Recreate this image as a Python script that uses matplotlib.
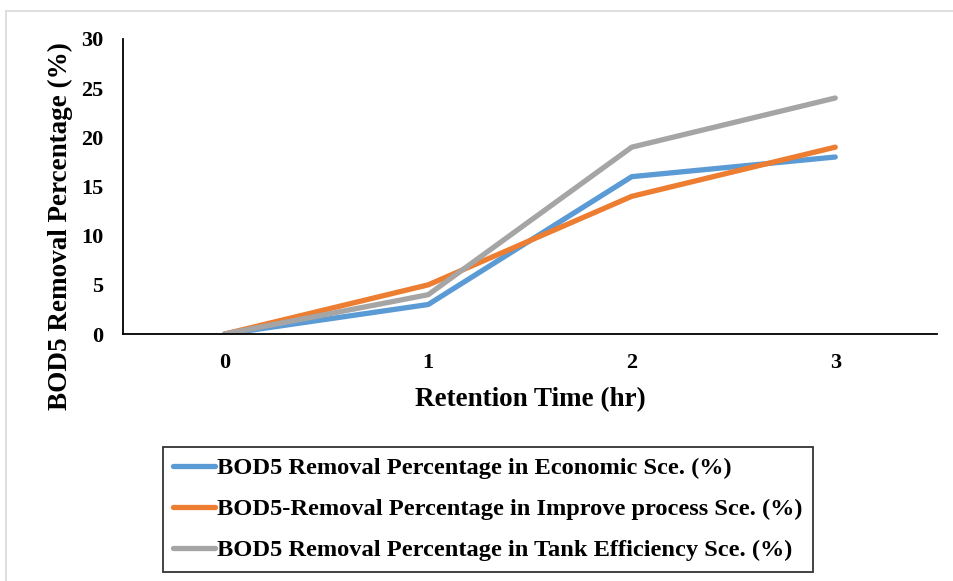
import matplotlib
matplotlib.use("Agg")
import matplotlib.pyplot as plt
from matplotlib.lines import Line2D

# data
retention_time = [0, 1, 2, 3]
economic = [0, 3, 16, 18]
improve_process = [0, 5, 14, 19]
tank_efficiency = [0, 4, 19, 24]

series_labels = [
    "BOD5 Removal Percentage in Economic Sce. (%)",
    "BOD5-Removal Percentage in Improve process Sce. (%)",
    "BOD5 Removal Percentage in Tank Efficiency Sce. (%)",
]
colors = ["#5B9BD5", "#ED7D31", "#A5A5A5"]

plt.rcParams["font.family"] = ["Liberation Serif", "DejaVu Serif"]
plt.rcParams["font.weight"] = "bold"

W, H = 954, 581
fig = plt.figure(figsize=(W / 100, H / 100), dpi=100)
ax = fig.add_axes([123 / W, 1 - 334 / H, (937 - 123) / W, (334 - 39) / H])

for vals, lab, c in zip([economic, improve_process, tank_efficiency], series_labels, colors):
    ax.plot(retention_time, vals, color=c, lw=3.8, label=lab, solid_capstyle="round",
            solid_joinstyle="round")

ax.set_xlim(-0.5, 3.5)
ax.set_ylim(0, 30)
ax.set_xticks(retention_time)
ax.set_yticks(range(0, 31, 5))
ax.tick_params(length=0, labelsize=16, pad=14)
for lbl in ax.get_xticklabels() + ax.get_yticklabels():
    lbl.set_fontweight("bold")

ax.spines["top"].set_visible(False)
ax.spines["right"].set_visible(False)
ax.spines["left"].set_linewidth(1.3)
ax.spines["bottom"].set_linewidth(1.3)

fig.text(530 / W, 1 - 400 / H, "Retention Time (hr)", ha="center", va="center",
         fontsize=19.5, fontweight="bold")
fig.text(60 / W, 1 - 226 / H, "BOD5 Removal Percentage (%)", ha="center", va="center",
         rotation=90, fontsize=19.5, fontweight="bold")

leg = fig.legend(loc="upper left", bbox_to_anchor=(163 / W, 1 - 447 / H),
                 prop={"size": 17.6, "weight": "bold"}, frameon=True, fancybox=False,
                 handlelength=1.7, handletextpad=0.1, labelspacing=0.77,
                 borderpad=0.42, borderaxespad=0)
leg.get_frame().set_edgecolor("black")
leg.get_frame().set_linewidth(1.3)
for h in leg.get_lines():
    h.set_linewidth(3.8)

# light grey frame lines at top and left of the image
fig.add_artist(Line2D([6.5 / W, 1], [1 - 10.5 / H, 1 - 10.5 / H], color="#d9d9d9", lw=1.2))
fig.add_artist(Line2D([6.5 / W, 6.5 / W], [0, 1 - 10.5 / H], color="#d9d9d9", lw=1.2))

fig.savefig("out.png", dpi=100)
